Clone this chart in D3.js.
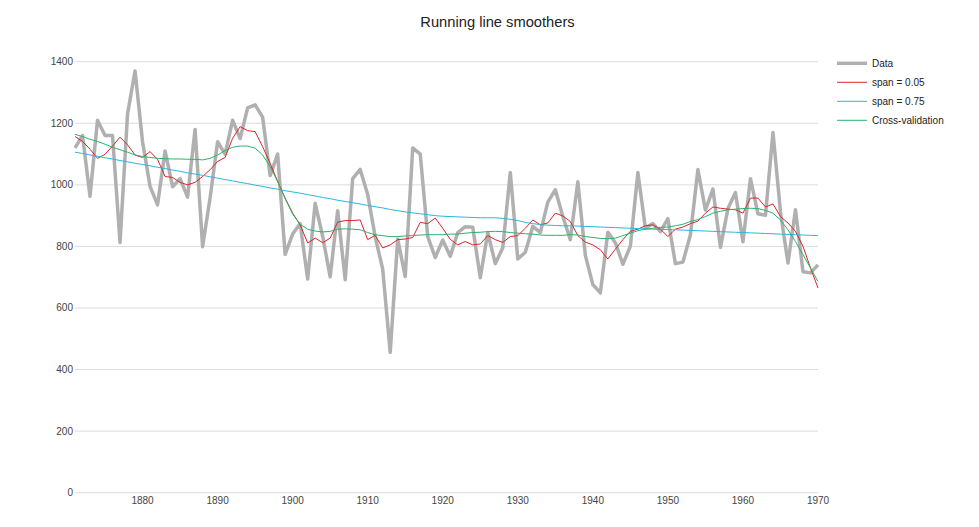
<!DOCTYPE html>
<html lang="en">
  <head>
    <meta charset="utf-8">
    <title>Running line smoothers</title>
    <script src="https://d3js.org/d3.v7.min.js"></script>
    <style>
      body { margin: 0; background: #fff; }
      svg { font-family: "Liberation Sans", Arial, sans-serif; }
      .grid line { stroke: #dcdcdc; stroke-width: 1; }
      .tick-label { font-size: 10px; fill: #444; }
    </style>
  </head>
  <body>
  <script>

// Data: Nile flow 1871-1970 and three smoothers

  var years = d3.range(1871, 1971);

  var flow = [
    1120, 1160, 963, 1210, 1160, 1160, 813, 1230, 1370, 1140,
    995, 935, 1110, 994, 1020, 960, 1180, 799, 958, 1140,
    1100, 1210, 1150, 1250, 1260, 1220, 1030, 1100, 774, 840,
    874, 694, 940, 833, 701, 916, 692, 1020, 1050, 969,
    831, 726, 456, 824, 702, 1120, 1100, 832, 764, 821,
    768, 845, 864, 862, 698, 845, 744, 796, 1040, 759,
    781, 865, 845, 944, 984, 897, 822, 1010, 771, 676,
    649, 846, 812, 742, 801, 1040, 860, 874, 848, 890,
    744, 749, 838, 1050, 918, 986, 797, 923, 975, 815,
    1020, 906, 901, 1170, 912, 746, 919, 718, 714, 740
  ];

  var span05 = [
    1157, 1141, 1116, 1086, 1099, 1126, 1155, 1130, 1097, 1089,
    1108, 1083, 1027, 1024, 1008, 1000, 1008, 1027, 1049, 1076,
    1089, 1151, 1189, 1176, 1173, 1124, 1070, 1011, 957, 908,
    870, 811, 827, 812, 827, 879, 884, 884, 886, 822,
    836, 795, 805, 822, 824, 829, 878, 874, 892, 859,
    823, 805, 816, 805, 808, 835, 822, 813, 832, 835,
    859, 886, 870, 876, 908, 899, 881, 835, 814, 805,
    789, 759, 791, 822, 849, 856, 867, 870, 856, 832,
    856, 863, 874, 882, 908, 928, 924, 921, 919, 908,
    957, 957, 928, 938, 897, 876, 849, 800, 730, 665
  ];

  var span75 = [
    1106, 1102, 1097, 1093, 1088, 1084, 1079, 1075, 1070, 1066,
    1062, 1057, 1053, 1048, 1044, 1039, 1035, 1031, 1026, 1022,
    1017, 1013, 1008, 1004, 999, 995, 990, 986, 981, 977,
    973, 968, 964, 959, 955, 950, 946, 942, 938, 933,
    929, 925, 920, 916, 912, 909, 906, 903, 900, 898,
    897, 896, 895, 894, 893, 893, 893, 891, 888, 884,
    878, 874, 871, 869, 868, 867, 867, 866, 865, 864,
    863, 862, 861, 860, 859, 858, 857, 856, 855, 855,
    854, 853, 852, 851, 850, 849, 848, 847, 846, 845,
    844, 843, 842, 841, 840, 839, 838, 837, 836, 835
  ];

  var crossVal = [
    1164, 1157, 1148, 1141, 1132, 1122, 1114, 1106, 1097, 1092,
    1089, 1086, 1085, 1084, 1084, 1083, 1083, 1081, 1086, 1097,
    1111, 1122, 1126, 1126, 1119, 1097, 1059, 1011, 955, 905,
    872, 856, 850, 847, 849, 856, 857, 856, 854, 845,
    838, 835, 832, 832, 834, 835, 837, 838, 838, 838,
    840, 840, 843, 845, 846, 848, 849, 848, 845, 843,
    841, 840, 837, 836, 836, 836, 838, 837, 832, 829,
    826, 825, 827, 835, 843, 851, 856, 859, 862, 863,
    867, 872, 881, 887, 897, 908, 914, 919, 921, 923,
    924, 923, 917, 908, 886, 854, 816, 773, 730, 686
  ];

  var yTicks = [0, 200, 400, 600, 800, 1000, 1200, 1400];
  var xTicks = [1880, 1890, 1900, 1910, 1920, 1930, 1940, 1950, 1960, 1970];

  var seriesNames = ["Data", "span = 0.05", "span = 0.75", "Cross-validation"];
  var seriesValues = [flow, span05, span75, crossVal];
  var seriesColors = ["#b0b0b0", "#d9252a", "#2ab7dc", "#2cb36e"];
  var seriesWidths = [3.5, 1, 1, 1];

// Layout

  var w = 979;
  var h = 527;
  var margin = {left: 75, right: 818, top: 61.7, bottom: 492.7};

  var svg = d3.select("body")
    .append("svg")
      .attr("width", w)
      .attr("height", h);

  var xScale = d3.scaleLinear()
      .domain([1871, 1970])
      .range([margin.left, margin.right]);

  var yScale = d3.scaleLinear()
      .domain([0, 1400])
      .range([margin.bottom, margin.top]);

  // title
  svg.append("text")
     .attr("x", 497.5)
     .attr("y", 27)
     .attr("text-anchor", "middle")
     .style("font-size", "14.7px")
     .style("fill", "#222")
     .text("Running line smoothers");

  // horizontal gridlines
  svg.append("g")
     .attr("class", "grid")
     .selectAll("line")
     .data(yTicks)
     .join("line")
     .attr("x1", margin.left)
     .attr("x2", margin.right)
     .attr("y1", d => yScale(d))
     .attr("y2", d => yScale(d));

  // y labels
  svg.selectAll(".ylab")
     .data(yTicks)
     .join("text")
     .attr("class", "ylab tick-label")
     .attr("x", margin.left - 2)
     .attr("y", d => yScale(d))
     .attr("dy", "0.35em")
     .attr("text-anchor", "end")
     .text(d => d);

  // x labels
  svg.selectAll(".xlab")
     .data(xTicks)
     .join("text")
     .attr("class", "xlab tick-label")
     .attr("x", d => xScale(d))
     .attr("y", margin.bottom + 8)
     .attr("dy", "0.35em")
     .attr("text-anchor", "middle")
     .text(d => d);

  // lines
  var line = d3.line()
      .x((d, i) => xScale(years[i]))
      .y(d => yScale(d));

  svg.selectAll(".series")
     .data(seriesValues)
     .join("path")
     .attr("class", "series")
     .attr("fill", "none")
     .attr("stroke", (d, i) => seriesColors[i])
     .attr("stroke-width", (d, i) => seriesWidths[i])
     .attr("stroke-linejoin", "round")
     .attr("d", d => line(d));

  // legend
  var legend = svg.append("g")
      .selectAll("g")
      .data(seriesNames)
      .join("g")
      .attr("transform", (d, i) => `translate(837, ${63.3 + i * 19})`);

  legend.append("line")
     .attr("x1", 0)
     .attr("x2", 30)
     .attr("stroke", (d, i) => seriesColors[i])
     .attr("stroke-width", (d, i) => seriesWidths[i]);

  legend.append("text")
     .attr("x", 35)
     .attr("dy", "0.35em")
     .style("font-size", "10px")
     .style("fill", "#222")
     .text(d => d);

  </script>
  </body>
</html>
